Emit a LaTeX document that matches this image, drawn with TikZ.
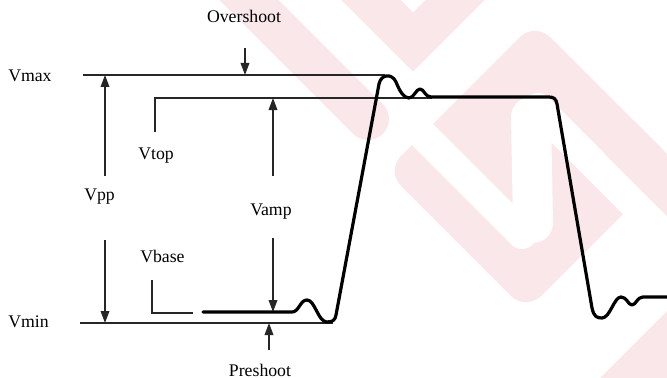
\documentclass[tikz,border=0pt]{standalone}
\usepackage{fontspec}
\setmainfont{Liberation Serif}
\usepackage{tikz}
\usetikzlibrary{arrows.meta, positioning}

\definecolor{wmpink}{RGB}{250,231,233}

\begin{document}
\begin{tikzpicture}[
    x=0.75pt, y=-0.75pt,
    lbl/.style={font=\fontsize{13.3}{16}\selectfont, inner sep=0pt, anchor=base west},
    level/.style={line width=1pt, black!85},
    arrow/.style={line width=1pt, black!85, -{Triangle[length=9pt,width=6.5pt]}},
    wave/.style={line width=2.4pt, line join=round, line cap=round},
    wmband/.style={line width=31.5pt, wmpink, line cap=round, line join=round},
    wmcut/.style={line width=22.5pt, white, line cap=round}
]
\useasboundingbox (0,0) rectangle (667,378);

% faint watermark behind
\begin{scope}
  \clip (0,0) rectangle (667,378);
  \fill[wmpink, rounded corners=16pt] (535,22) -- (675,162) -- (526,311) -- (386,171) -- cycle;
  \draw[wmcut] (538,108) -- (730,300);
  \draw[wmcut] (405,117) -- (522,234);
  \draw[wmcut, line width=30pt] (531,117) -- (533,223);
  \draw[wmband, line width=33pt, line cap=butt] (620,138) -- (720,238);
  \draw[wmband] (229,-20) -- (368,119);
  \draw[wmband, line join=miter] (335,-36) -- (413,42) -- (491,-36);
  \draw[wmband, line width=36pt] (600,412) -- (712,300);
\end{scope}

% levels
\draw[level] (83,75) -- (385,75);
\draw[level] (155,132) -- (155,98) -- (432,98);
\draw[level] (80,323) -- (333,323);
\draw[level] (152,280) -- (152,313) -- (193,313);

% labels
\node[lbl] (vmax) at (8,82) {Vmax};
\node[lbl] (vmin) at (8,327) {Vmin};
\node[lbl] (vtop) at (138,159) {Vtop};
\node[lbl] (vbase) at (140,262) {Vbase};
\node[lbl] (vpp) at (84,200) {Vpp};
\node[lbl] (vamp) at (250,215) {Vamp};
\node[lbl, anchor=base] (over) at (244,23) {Overshoot};
\node[lbl, anchor=base] (pre) at (260,376) {Preshoot};

% arrow ends
\coordinate (ppTop) at (105,176);
\coordinate (ppMax) at (105,75);
\coordinate (ppBot) at (105,240);
\coordinate (ppMin) at (105,323);
\coordinate (ampTop) at (273,176);
\coordinate (ampHi) at (273,98);
\coordinate (ampBot) at (273,238);
\coordinate (ampLo) at (273,312);
\coordinate (osTail) at (245,48);
\coordinate (osTip) at (245,75);
\coordinate (psTail) at (269,350);
\coordinate (psTip) at (269,323);

\draw[arrow] (ppTop) -- (ppMax);
\draw[arrow] (ppBot) -- (ppMin);
\draw[arrow] (ampTop) -- (ampHi);
\draw[arrow] (ampBot) -- (ampLo);
\draw[arrow] (osTail) -- (osTip);
\draw[arrow] (psTail) -- (psTip);

% pulse
\draw[wave] (203,312) -- (292,312)
  .. controls (299,312) and (300,300) .. (307,300)
  .. controls (315,300) and (318,322) .. (327,322)
  .. controls (333,322) and (335,320) .. (336,315)
  -- (379,84)
  .. controls (381,74) and (392,73) .. (396,82)
  .. controls (400,92) and (404,98) .. (409,98)
  .. controls (414,98) and (416,89) .. (420,89)
  .. controls (424,89) and (425,97) .. (431,97)
  -- (549,97)
  .. controls (554,97) and (556,99) .. (557,104)
  -- (592,308)
  .. controls (594,317) and (597,318) .. (602,318)
  .. controls (610,318) and (614,297) .. (621,297)
  .. controls (627,297) and (628,305) .. (632,305)
  .. controls (636,305) and (637,297) .. (643,297)
  -- (667,297);
\end{tikzpicture}
\end{document}
